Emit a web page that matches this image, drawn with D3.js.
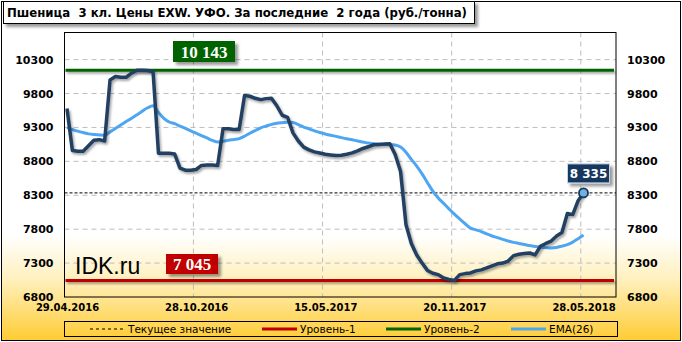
<!DOCTYPE html>
<html>
<head>
<meta charset="utf-8">
<script src="https://cdn.jsdelivr.net/npm/d3@7"></script>
<style>
  body { margin: 0; background: #fff; }
  svg { display: block; }
</style>
</head>
<body>
<div id="chart"></div>
<script>
// данные
var dates   = ["29.04.2016", "28.10.2016", "15.05.2017", "20.11.2017", "28.05.2018"];
var dateIdx = [0, 24, 48, 72, 96];
var yTicks  = [6800, 7300, 7800, 8300, 8800, 9300, 9800, 10300];

var price = [9580, 8960, 8950, 8950, 9030, 9110, 9120, 9100, 10000, 10050,
             10040, 10040, 10100, 10143, 10143, 10140, 10120, 8920, 8920, 8920,
             8910, 8700, 8670, 8670, 8680, 8740, 8745, 8745, 8740, 9280,
             9280, 9270, 9270, 9770, 9760, 9730, 9710, 9725, 9730, 9620,
             9480, 9450, 9220, 9100, 9010, 8970, 8940, 8924, 8905, 8895,
             8885, 8890, 8905, 8925, 8955, 8990, 9015, 9045, 9050, 9055,
             9060, 8900, 8650, 7870, 7590, 7420, 7300, 7190, 7150, 7130,
             7080, 7060, 7045, 7130, 7145, 7155, 7185, 7200, 7228, 7260,
             7290, 7300, 7330, 7410, 7430, 7440, 7449, 7420, 7548, 7590,
             7625, 7700, 7750, 8030, 8015, 8220, 8335];

var ema = [9300, 9270, 9245, 9225, 9205, 9195, 9190, 9185, 9235, 9285,
           9335, 9387, 9437, 9488, 9540, 9590, 9620, 9520, 9435, 9380,
           9355, 9320, 9285, 9250, 9215, 9180, 9145, 9110, 9085, 9095,
           9110, 9122, 9135, 9170, 9215, 9255, 9295, 9320, 9345, 9362,
           9370, 9377, 9372, 9340, 9305, 9280, 9250, 9225, 9204, 9185,
           9168, 9150, 9133, 9118, 9100, 9085, 9070, 9060, 9055, 9050,
           9048, 9040, 9010, 8935, 8830, 8730, 8615, 8485, 8360, 8260,
           8180, 8100, 8022, 7950, 7880, 7815, 7790, 7765, 7730, 7700,
           7675, 7650, 7625, 7605, 7590, 7575, 7558, 7545, 7535, 7528,
           7523, 7530, 7550, 7572, 7610, 7660, 7715];

var level1 = 7045;   // Уровень-1
var level2 = 10143;  // Уровень-2
var current = price[price.length - 1];

var W = 682, H = 342;
var plot = { left: 64.5, right: 616, top: 32.5, bottom: 297 };

var svg = d3.select("#chart").append("svg")
            .attr("width", W)
            .attr("height", H);

var defs = svg.append("defs");

// фон: белый сверху, жёлтый снизу
var grad = defs.append("linearGradient")
               .attr("id", "bg")
               .attr("x1", 0).attr("y1", 0).attr("x2", 0).attr("y2", 1);
grad.append("stop").attr("offset", "0.69").attr("stop-color", "#ffffff");
grad.append("stop").attr("offset", "0.82").attr("stop-color", "#fff0bd");
grad.append("stop").attr("offset", "1").attr("stop-color", "#ffcc33");

// тени (в координатах svg, чтобы работали и на горизонтальных линиях)
function makeShadow(id, dx, dy, sd, op) {
    defs.append("filter").attr("id", id)
        .attr("filterUnits", "userSpaceOnUse")
        .attr("x", 0).attr("y", 0).attr("width", W).attr("height", H)
        .append("feDropShadow")
        .attr("dx", dx).attr("dy", dy).attr("stdDeviation", sd)
        .attr("flood-color", "#000").attr("flood-opacity", op);
}
makeShadow("shadow", 1.5, 2, 1.2, 0.35);
makeShadow("boxShadow", 3, 3, 1.5, 0.4);

svg.append("rect")
   .attr("x", 1.5).attr("y", 1.5)
   .attr("width", W - 3).attr("height", H - 3)
   .attr("fill", "url(#bg)")
   .attr("stroke", "#000");

// шкалы
var xScale = d3.scaleLinear().domain([0, price.length - 1]).range([67, 583.5]);
var half = (xScale(1) - xScale(0)) / 2;
var yScale = d3.scaleLinear().domain([6800, 10700]).range([plot.bottom, plot.top]);

// сетка
svg.append("g")
   .selectAll("line")
   .data(yTicks.slice(1))
   .enter()
   .append("line")
   .attr("x1", plot.left).attr("x2", plot.right)
   .attr("y1", function(d) { return yScale(d); })
   .attr("y2", function(d) { return yScale(d); })
   .attr("stroke", "#bdbdbd")
   .attr("stroke-dasharray", "5,4");

svg.append("g")
   .selectAll("line")
   .data(dateIdx.slice(1))
   .enter()
   .append("line")
   .attr("x1", function(d) { return xScale(d) - half; })
   .attr("x2", function(d) { return xScale(d) - half; })
   .attr("y1", plot.top).attr("y2", plot.bottom)
   .attr("stroke", "#bdbdbd")
   .attr("stroke-dasharray", "5,4");

// текущее значение
svg.append("line")
   .attr("x1", plot.left).attr("x2", plot.right)
   .attr("y1", yScale(current)).attr("y2", yScale(current))
   .attr("stroke", "#000")
   .attr("stroke-dasharray", "3,2");

// уровни
[[level1, "#c00000"], [level2, "#006400"]].forEach(function(l) {
    svg.append("line")
       .attr("x1", plot.left + 1).attr("x2", plot.right - 2)
       .attr("y1", yScale(l[0])).attr("y2", yScale(l[0]))
       .attr("stroke", l[1])
       .attr("stroke-width", 3)
       .attr("filter", "url(#shadow)");
});

// линии
var line = d3.line()
             .x(function(d, i) { return xScale(i); })
             .y(function(d) { return yScale(d); });

svg.append("path")
   .datum(ema)
   .attr("d", line.curve(d3.curveMonotoneX))
   .attr("fill", "none")
   .attr("stroke", "#4ea6f2")
   .attr("stroke-width", 3);

svg.append("path")
   .datum(price)
   .attr("d", line.curve(d3.curveLinear))
   .attr("fill", "none")
   .attr("stroke", "#233f62")
   .attr("stroke-width", 3.5)
   .attr("stroke-linejoin", "round")
   .attr("filter", "url(#shadow)");

// рамка области графика
svg.append("rect")
   .attr("x", plot.left).attr("y", plot.top)
   .attr("width", plot.right - plot.left)
   .attr("height", plot.bottom - plot.top)
   .attr("fill", "none")
   .attr("stroke", "#000");

// оси
var axisFont = "DejaVu Sans, Verdana, sans-serif";

var yLeft = svg.append("g")
   .attr("transform", "translate(" + plot.left + ",0)")
   .call(d3.axisLeft(yScale).tickValues(yTicks).tickFormat(d3.format("d")).tickSize(0).tickPadding(11));
var yRight = svg.append("g")
   .attr("transform", "translate(" + plot.right + ",0)")
   .call(d3.axisRight(yScale).tickValues(yTicks).tickFormat(d3.format("d")).tickSize(0).tickPadding(11));
[yLeft, yRight].forEach(function(a) {
    a.select(".domain").remove();
    a.selectAll("text")
     .style("font-family", axisFont)
     .style("font-size", "11px")
     .style("font-weight", "bold")
     .attr("fill", "#000");
});

var xAxis = svg.append("g")
   .attr("transform", "translate(0," + plot.bottom + ")")
   .call(d3.axisBottom(xScale)
           .tickValues(dateIdx)
           .tickFormat(function(d, i) { return dates[i]; })
           .tickSize(0).tickPadding(7));
xAxis.select(".domain").remove();
xAxis.selectAll("text")
     .style("font-family", axisFont)
     .style("font-size", "10px")
     .style("font-weight", "bold")
     .attr("fill", "#000");

// подписи уровней
function fmt(v) { return d3.format(",")(v).replace(/,/g, " "); }

function levelLabel(x, y, w, h, fill, text) {
    svg.append("rect")
       .attr("x", x).attr("y", y).attr("width", w).attr("height", h)
       .attr("fill", fill)
       .attr("filter", "url(#boxShadow)");
    svg.append("text")
       .attr("x", x + w / 2).attr("y", y + h / 2 + 6)
       .attr("text-anchor", "middle")
       .style("font-family", "Liberation Serif, DejaVu Serif, serif")
       .style("font-weight", "bold")
       .style("font-size", "17px")
       .attr("fill", "#fff")
       .text(text);
}
levelLabel(173, 41, 62, 21, "#006400", fmt(level2));
levelLabel(166, 254, 52, 20, "#c00000", fmt(level1));

svg.append("text")
   .attr("x", 75).attr("y", 273.5)
   .style("font-family", "Liberation Sans, Arial, sans-serif")
   .style("font-size", "23px")
   .attr("fill", "#000")
   .text("IDK.ru");

// последнее значение
var lastX = xScale(price.length - 1), lastY = yScale(current);
svg.append("rect")
   .attr("x", lastX - 16).attr("y", lastY - 29)
   .attr("width", 42).attr("height", 19)
   .attr("fill", "#17375e")
   .attr("stroke", "#c6d4e6")
   .attr("stroke-width", 1)
   .attr("filter", "url(#boxShadow)");
svg.append("text")
   .attr("x", lastX + 5).attr("y", lastY - 15)
   .attr("text-anchor", "middle")
   .style("font-family", axisFont)
   .style("font-weight", "bold")
   .style("font-size", "12px")
   .attr("fill", "#fff")
   .text(fmt(current));
svg.append("circle")
   .attr("cx", lastX).attr("cy", lastY).attr("r", 4.5)
   .attr("fill", "#6fb2e0")
   .attr("stroke", "#17375e")
   .attr("stroke-width", 1.8);

// заголовок
svg.append("rect")
   .attr("x", 3.5).attr("y", 1.5).attr("width", 471).attr("height", 22)
   .attr("fill", "#fff")
   .attr("stroke", "#000")
   .attr("filter", "url(#boxShadow)");
svg.append("text")
   .attr("x", 7).attr("y", 17)
   .attr("textLength", 460)
   .attr("lengthAdjust", "spacingAndGlyphs")
   .style("font-family", axisFont)
   .style("font-weight", "bold")
   .style("font-size", "12px")
   .style("white-space", "pre")
   .attr("fill", "#000")
   .text("Пшеница  3 кл. Цены EXW. УФО. За последние  2 года (руб./тонна)");

// легенда
var lg = svg.append("g");
lg.append("rect")
  .attr("x", 64.5).attr("y", 321.5).attr("width", 553).attr("height", 15)
  .attr("fill", "none")
  .attr("stroke", "#000");

var legend = [
    { label: "Текущее значение", color: "#000", dash: "3,3", width: 1, x: 90 },
    { label: "Уровень-1", color: "#c00000", dash: null, width: 3, x: 262 },
    { label: "Уровень-2", color: "#006400", dash: null, width: 3, x: 386 },
    { label: "EMA(26)", color: "#4ea6f2", dash: null, width: 3, x: 511 }
];
legend.forEach(function(d) {
    lg.append("line")
      .attr("x1", d.x).attr("x2", d.x + 35)
      .attr("y1", 329).attr("y2", 329)
      .attr("stroke", d.color)
      .attr("stroke-width", d.width)
      .attr("stroke-dasharray", d.dash);
    lg.append("text")
      .attr("x", d.x + 38).attr("y", 333)
      .style("font-family", axisFont)
      .style("font-size", "10.5px")
      .attr("fill", "#000")
      .text(d.label);
});
</script>
</body>
</html>
